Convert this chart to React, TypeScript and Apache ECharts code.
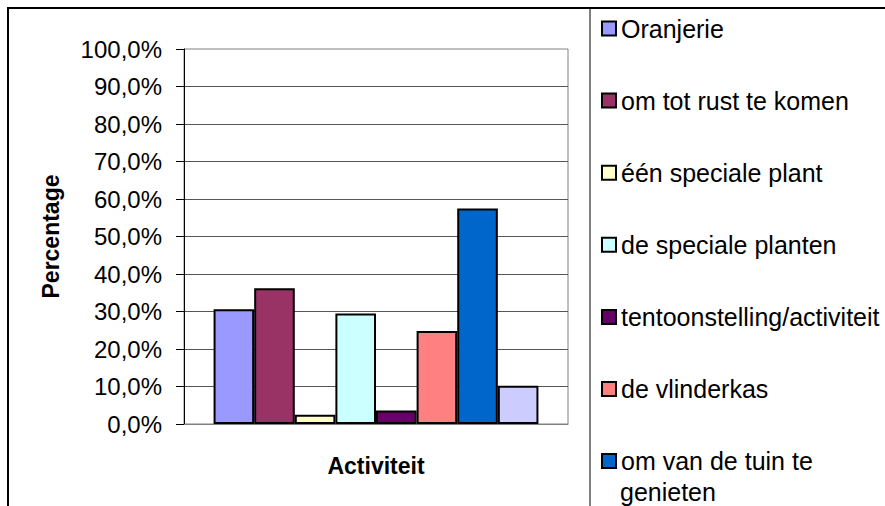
import React, { useEffect, useRef } from "react";
import * as echarts from "echarts";

const categories = ["Activiteit"];
const seriesNames = [
  "Oranjerie",
  "om tot rust te komen",
  "één speciale plant",
  "de speciale planten",
  "tentoonstelling/activiteit",
  "de vlinderkas",
  "om van de tuin te genieten",
  "overig",
];
const seriesValues = [30.6, 36.2, 2.5, 29.5, 3.6, 24.8, 57.5, 10.2];
const seriesColors = [
  "#9999FF",
  "#993366",
  "#FFFFCC",
  "#CCFFFF",
  "#660066",
  "#FF8080",
  "#0066CC",
  "#CCCCFF",
];
const legendNames = seriesNames.slice(0, 7);
const yTickMin = 0;
const yTickMax = 100;
const yTickStep = 10;

export default function App() {
  const ref = useRef<HTMLDivElement>(null);
  useEffect(() => {
    document.body.style.margin = "0";
    const chart = echarts.init(ref.current!, undefined, { renderer: "svg" });
    const font = "Liberation Sans, Arial, sans-serif";
    chart.setOption({
      animation: false,
      backgroundColor: "#ffffff",
      grid: {
        left: 184,
        top: 49,
        right: 317,
        bottom: 82,
        show: true,
        borderColor: "#808080",
        borderWidth: 1,
        backgroundColor: "transparent",
      },
      xAxis: {
        type: "category",
        data: categories,
        name: "Activiteit",
        nameLocation: "middle",
        nameGap: 30,
        nameTextStyle: { fontFamily: font, fontSize: 23, fontWeight: "bold", color: "#000" },
        axisLine: { show: true, lineStyle: { color: "#808080", width: 1 } },
        axisTick: { show: false },
        axisLabel: { show: false },
      },
      yAxis: {
        type: "value",
        min: yTickMin,
        max: yTickMax,
        interval: yTickStep,
        name: "Percentage",
        nameLocation: "middle",
        nameGap: 122,
        nameRotate: 90,
        nameTextStyle: { fontFamily: font, fontSize: 23, fontWeight: "bold", color: "#000" },
        axisLine: { show: true, lineStyle: { color: "#000", width: 1 } },
        axisTick: { show: true, length: 8, lineStyle: { color: "#000" } },
        axisLabel: {
          margin: 22,
          fontFamily: font,
          fontSize: 24,
          color: "#000",
          formatter: (v: number) => v.toFixed(1).replace(".", ",") + "%",
        },
        splitLine: {
          show: true,
          showMinLine: false,
          showMaxLine: false,
          lineStyle: { color: "#555", width: 1 },
        },
      },
      legend: {
        orient: "vertical",
        left: 601,
        top: 16,
        padding: 0,
        itemWidth: 14,
        itemHeight: 14,
        itemGap: 47.1,
        data: legendNames,
        icon: "rect",
        textStyle: { fontFamily: font, fontSize: 25, color: "#000", lineHeight: 24 },
        formatter: (n: string) => (n === "om van de tuin te genieten" ? "om van de tuin te" : n),
        selectedMode: false,
      },
      graphic: [
        {
          type: "rect",
          shape: { x: 8, y: 8, width: 1000, height: 1000 },
          style: { fill: "none", stroke: "#000", lineWidth: 2 },
          silent: true,
        },
        {
          type: "line",
          shape: { x1: 590, y1: 8, x2: 590, y2: 506 },
          style: { stroke: "#000", lineWidth: 1 },
          silent: true,
        },
        {
          type: "text",
          x: 620,
          y: 492,
          style: {
            text: "genieten",
            fontFamily: font,
            fontSize: 25,
            fill: "#000",
            verticalAlign: "middle",
          },
          silent: true,
        },
      ],
      series: seriesNames.map((name, i) => ({
        type: "bar",
        name,
        data: [seriesValues[i]],
        barGap: "0%",
        barCategoryGap: "15.4%",
        itemStyle: { color: seriesColors[i], borderColor: "#000", borderWidth: 2 },
      })),
    });
    return () => chart.dispose();
  }, []);
  return <div ref={ref} style={{ width: 885, height: 506 }} />;
}
